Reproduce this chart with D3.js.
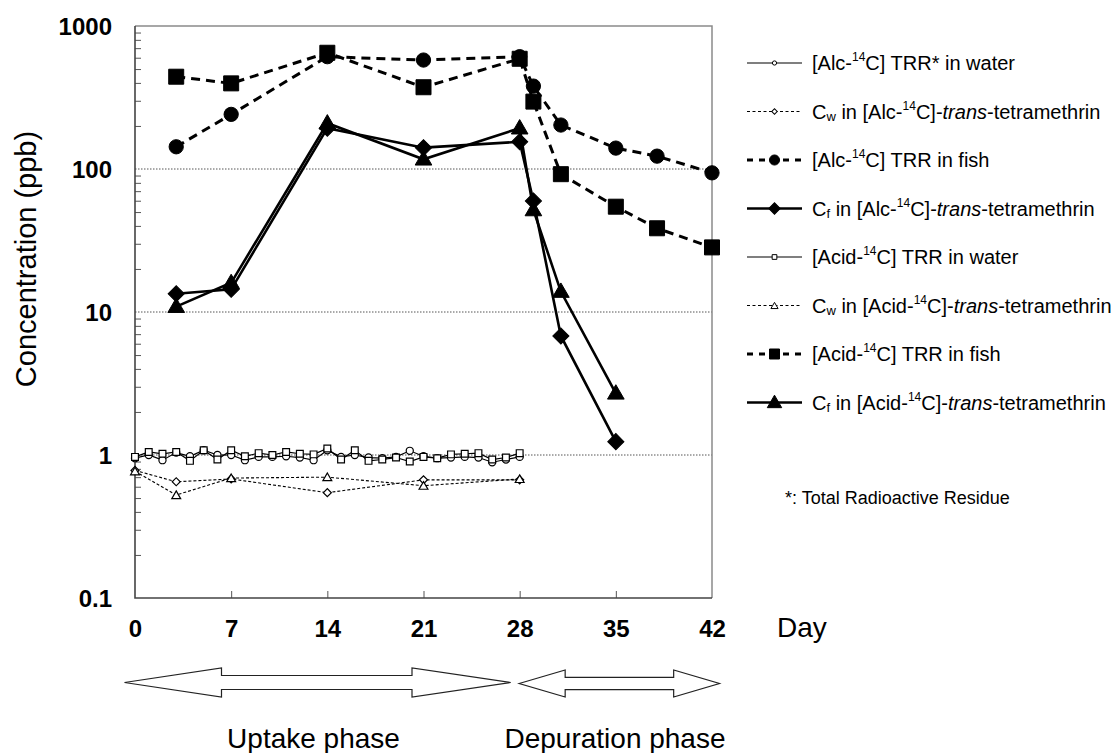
<!DOCTYPE html>
<html><head><meta charset="utf-8">
<script src="https://cdn.jsdelivr.net/npm/d3@7"></script>
<style>
html,body{margin:0;padding:0;background:#fff;}
svg{display:block;font-family:"Liberation Sans",Arial,sans-serif;}
</style></head>
<body><svg id="c" width="1115" height="753"></svg>
<script>
// ---------- data ----------
const waterDays = [0,1,2,3,4,5,6,7,8,9,10,11,12,13,14,15,16,17,18,19,20,21,22,23,24,25,26,27,28];
const alcWater  = [0.95,1.0,0.92,1.04,0.98,1.08,1.0,1.0,0.92,0.97,0.97,0.98,0.96,0.92,1.08,0.97,1.0,0.96,0.95,0.97,1.07,0.98,0.95,0.96,0.97,0.96,0.89,0.93,0.97];
const acidWater = [0.97,1.05,1.02,1.05,0.91,1.08,0.93,1.08,0.98,1.03,1.0,1.05,1.02,1.01,1.11,0.93,1.08,0.91,0.93,0.96,0.90,0.97,0.95,1.01,1.02,1.03,0.93,0.96,1.03];
const cwDays  = [0,3,7,14,21,28];
const cwAlc   = [0.78,0.65,0.68,0.545,0.67,0.67];
const cwAcid  = [0.77,0.525,0.69,0.70,0.61,0.68];
const fishDays = [3,7,14,21,28,29,31,35,38,42];
const alcFish  = [143,241,610,578,610,380,203,140,123,94];
const acidFish = [442,397,650,373,590,296,92,54.5,38.5,28.3];
const cfDays  = [3,7,14,21,28,29,31,35];
const cfAlc   = [13.4,14.4,193,141,155,59.8,6.8,1.24];
const cfAcid  = [10.9,16,209,117,193,51.7,13.9,2.7];
const yTickValues = [0.1,1,10,100,1000];
const yTickLabels = ["0.1","1","10","100","1000"];
const xTickValues = [0,7,14,21,28,35,42];
const gridValues = [1,10,100];
const minorValues = [0.2,0.3,0.4,0.5,0.6,0.7,0.8,0.9,2,3,4,5,6,7,8,9,20,30,40,50,60,70,80,90,200,300,400,500,600,700,800,900];
const legendLabels = [
 [["[Alc-"],["14","sup"],["C] TRR* in water"]],
 [["C"],["w","sub"],[" in [Alc-"],["14","sup"],["C]-"],["trans","it"],["-tetramethrin"]],
 [["[Alc-"],["14","sup"],["C] TRR  in fish"]],
 [["C"],["f","sub"],[" in [Alc-"],["14","sup"],["C]-"],["trans","it"],["-tetramethrin"]],
 [["[Acid-"],["14","sup"],["C] TRR in water"]],
 [["C"],["w","sub"],[" in [Acid-"],["14","sup"],["C]-"],["trans","it"],["-tetramethrin"]],
 [["[Acid-"],["14","sup"],["C] TRR in fish"]],
 [["C"],["f","sub"],[" in [Acid-"],["14","sup"],["C]-"],["trans","it"],["-tetramethrin"]]
];
const phaseLabels = ["Uptake phase","Depuration phase"];

// ---------- layout ----------
const svg = d3.select("#c");
const L=135, R=712, T=26, B=598;
const x = d3.scaleLinear().domain([0,42]).range([L,R]);
const y = d3.scaleLog().domain([0.1,1000]).range([B,T]);

// grid
svg.append("g").selectAll("line").data(gridValues).join("line")
  .attr("x1",L).attr("x2",R).attr("y1",d=>y(d)).attr("y2",d=>y(d))
  .attr("stroke","#555").attr("stroke-width",1).attr("stroke-dasharray","1.5,1.5");

// frame top/right
svg.append("path").attr("d",`M${L},${T}H${R}V${B}`).attr("fill","none").attr("stroke","#8a8a8a").attr("stroke-width",1.5);

// minor ticks (inside)
const gMinor = svg.append("g").attr("transform",`translate(${L},0)`)
  .call(d3.axisRight(y).tickValues(minorValues).tickSize(6).tickFormat(""));
gMinor.select(".domain").remove();
gMinor.selectAll("line").attr("stroke","#555").attr("stroke-width",1);

// y labels
const gY = svg.append("g").attr("transform",`translate(${L},0)`)
  .call(d3.axisLeft(y).tickValues(yTickValues).tickSize(0).tickPadding(23).tickFormat((d,i)=>yTickLabels[i]));
gY.select(".domain").remove();
gY.selectAll("text").attr("font-size",24).attr("font-weight","bold").attr("fill","#000")
  .attr("font-family","'Liberation Sans',Arial,sans-serif").attr("dy","0.36em");

// x ticks inside
const gXt = svg.append("g").attr("transform",`translate(0,${B})`)
  .call(d3.axisTop(x).tickValues(xTickValues.slice(1,-1)).tickSize(7).tickFormat(""));
gXt.select(".domain").remove();
gXt.selectAll("line").attr("stroke","#555").attr("stroke-width",1);

// x labels
const gX = svg.append("g").attr("transform",`translate(0,${B})`)
  .call(d3.axisBottom(x).tickValues(xTickValues).tickSize(0).tickPadding(22));
gX.select(".domain").remove();
gX.selectAll("text").attr("font-size",24).attr("font-weight","bold").attr("fill","#000")
  .attr("font-family","'Liberation Sans',Arial,sans-serif");

// axis lines left/bottom
svg.append("path").attr("d",`M${L},${T}V${B}H${R}`).attr("fill","none").attr("stroke","#444").attr("stroke-width",1.6);

// ---------- series ----------
function sym(type, size){
  if(type==="diamond") return d3.symbol().type(d3.symbolSquare).size(size/2*1)();
  const t = {circle:d3.symbolCircle, square:d3.symbolSquare, triangle:d3.symbolTriangle}[type];
  return d3.symbol().type(t).size(size)();
}
function marker(g, type, size, cx, cy, filled, sw){
  const p = g.append("path").attr("d", sym(type,size))
    .attr("transform", `translate(${cx},${cy})` + (type==="diamond"?" rotate(45)":"") + (type==="triangle"?" translate(0,1)":""))
    .attr("fill", filled?"#000":"#fff").attr("stroke","#000").attr("stroke-width", sw);
  return p;
}
const series = [
  {days:waterDays, vals:alcWater,  type:"circle",  size:40,  filled:false, lw:1.2, dash:null, msw:1.2},
  {days:waterDays, vals:acidWater, type:"square",  size:46,  filled:false, lw:1.2, dash:null, msw:1.2},
  {days:cwDays,    vals:cwAlc,     type:"diamond", size:64,  filled:false, lw:1.1, dash:"3,2", msw:1.2},
  {days:cwDays,    vals:cwAcid,    type:"triangle",size:34,  filled:false, lw:1.1, dash:"3,2", msw:1.2},
  {days:fishDays,  vals:alcFish,   type:"circle",  size:160, filled:true,  lw:3,   dash:"9,6", msw:1},
  {days:fishDays,  vals:acidFish,  type:"square",  size:225, filled:true,  lw:3,   dash:"9,6", msw:1},
  {days:cfDays,    vals:cfAlc,     type:"diamond", size:260, filled:true,  lw:2.6, dash:null, msw:1},
  {days:cfDays,    vals:cfAcid,    type:"triangle",size:120, filled:true,  lw:2.6, dash:null, msw:1}
];
const line = d3.line().x(d=>x(d[0])).y(d=>y(d[1]));
series.forEach(s=>{
  const pts = s.days.map((d,i)=>[d,s.vals[i]]);
  const g = svg.append("g");
  g.append("path").attr("d",line(pts)).attr("fill","none").attr("stroke","#000")
   .attr("stroke-width",s.lw).attr("stroke-dasharray",s.dash);
  pts.forEach(p=>marker(g, s.type, s.size, x(p[0]), y(p[1]), s.filled, s.msw));
});

// ---------- legend ----------
const legendStyles = [
  {type:"circle",size:14,filled:false,lw:1.2,dash:null},
  {type:"diamond",size:30,filled:false,lw:1,dash:"3,2.5"},
  {type:"circle",size:80,filled:true,lw:3,dash:"6,6"},
  {type:"diamond",size:130,filled:true,lw:2.6,dash:null},
  {type:"square",size:22,filled:false,lw:1.2,dash:null},
  {type:"triangle",size:22,filled:false,lw:1,dash:"3,2.5"},
  {type:"square",size:100,filled:true,lw:3,dash:"6,6"},
  {type:"triangle",size:90,filled:true,lw:2.6,dash:null}
];
const lg = svg.append("g");
legendLabels.forEach((lab,i)=>{
  const cy = 63 + i*48.5;
  const st = legendStyles[i];
  lg.append("line").attr("x1",747).attr("x2",802).attr("y1",cy).attr("y2",cy)
    .attr("stroke","#000").attr("stroke-width",st.lw).attr("stroke-dasharray",st.dash);
  marker(lg, st.type, st.size, 774.5, cy, st.filled, 1);
  const t = lg.append("text").attr("x",812).attr("y",cy+7).attr("font-size",20).attr("fill","#000");
  let off = 0;
  lab.forEach(seg=>{
    const ts = t.append("tspan").text(seg[0]);
    let target = 0;
    if(seg[1]==="sup"){ ts.attr("font-size",12); target=-9; }
    else if(seg[1]==="sub"){ ts.attr("font-size",13); target=2; }
    else if(seg[1]==="it"){ ts.attr("font-style","italic"); }
    ts.attr("dy", target-off); off = target;
  });
});
lg.append("text").attr("x",785).attr("y",504).attr("font-size",18).attr("fill","#000")
  .text("*: Total Radioactive Residue");

// ---------- axis titles ----------
svg.append("text").attr("transform",`translate(36,259) rotate(-90)`).attr("text-anchor","middle")
  .attr("font-size",29).attr("fill","#000").text("Concentration (ppb)");
svg.append("text").attr("x",777).attr("y",637).attr("font-size",28).attr("fill","#000").text("Day");

// ---------- phase arrows ----------
function dblArrow(x0,x1,h0,h1,cy,hh,sh){
  return `M${x0},${cy}L${h0},${cy-hh}V${cy-sh}H${h1}V${cy-hh}L${x1},${cy}L${h1},${cy+hh}V${cy+sh}H${h0}V${cy+hh}Z`;
}
const ag = svg.append("g");
ag.append("path").attr("d",dblArrow(x(0)-10.5, x(28)-9, x(0)+86.5, x(0)+277, 682.5, 14.5, 7))
  .attr("fill","#fff").attr("stroke","#222").attr("stroke-width",1.2);
ag.append("path").attr("d",dblArrow(x(28)-0.5, x(42)+7.5, x(28)+45.5, x(28)+154, 683.5, 13.5, 6.2))
  .attr("fill","#fff").attr("stroke","#222").attr("stroke-width",1.2);
ag.append("text").attr("x",313.5).attr("y",748).attr("text-anchor","middle").attr("font-size",28).attr("fill","#000").text(phaseLabels[0]);
ag.append("text").attr("x",615).attr("y",748).attr("text-anchor","middle").attr("font-size",28).attr("fill","#000").text(phaseLabels[1]);
</script></body></html>
